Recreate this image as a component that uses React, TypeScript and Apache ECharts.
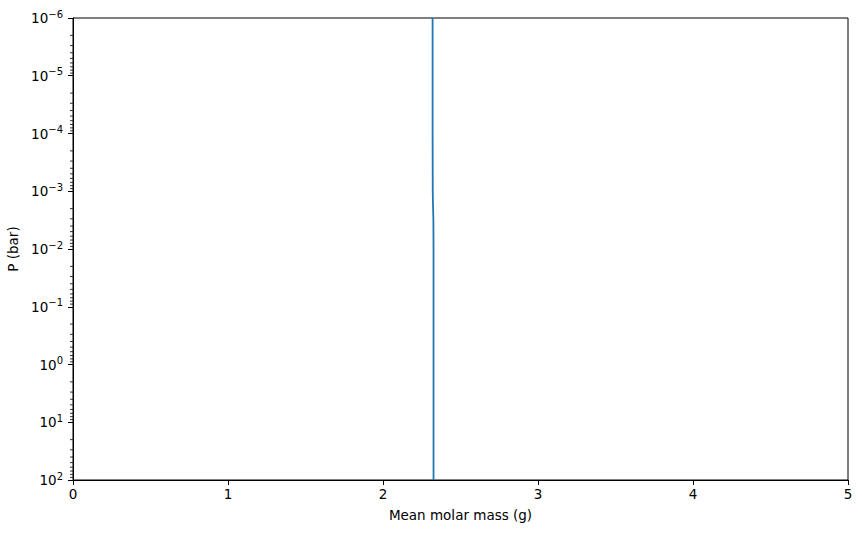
import { useEffect, useRef } from 'react'
import * as echarts from 'echarts'

// mean molar mass profile (g) vs pressure (bar)
const pressure = [1e2, 1e1, 1e0, 1e-1, 1e-2, 3e-3, 1.5e-3, 1e-3, 1e-4, 1e-5, 1e-6]
const molarMass = [2.326, 2.326, 2.326, 2.326, 2.326, 2.325, 2.322, 2.321, 2.32, 2.32, 2.32]

const xTicks = [0, 1, 2, 3, 4, 5]
// decades shown on the log axis and the minor tick multipliers inside each
const decades = [-6, -5, -4, -3, -2, -1, 0, 1]
const minorSteps = [2, 3, 4, 5, 6, 7, 8, 9]

const FONT = '"DejaVu Sans", sans-serif'
const FS = 13.5

export default function App() {
  const chartRef = useRef<HTMLDivElement>(null)

  useEffect(() => {
    if (!chartRef.current) return
    const chart = echarts.init(chartRef.current, undefined, { renderer: 'svg' })

    const minorValues = decades.flatMap((d) => minorSteps.map((m) => [0, m * Math.pow(10, d)]))

    const option: echarts.EChartsOption = {
      animation: false,
      textStyle: { fontFamily: FONT },
      grid: {
        left: 73,
        right: 14,
        top: 18,
        bottom: 53,
        containLabel: false,
        outerBoundsMode: 'none',
        show: true,
        borderColor: '#000',
        borderWidth: 1,
        backgroundColor: 'transparent',
      } as any,
      xAxis: {
        type: 'value',
        min: xTicks[0],
        max: xTicks[xTicks.length - 1],
        interval: 1,
        name: 'Mean molar mass (g)',
        nameLocation: 'middle',
        nameGap: 28,
        nameTextStyle: { color: '#000', fontSize: FS, fontFamily: FONT },
        axisLine: { lineStyle: { color: '#000', width: 1 } },
        axisTick: { inside: false, length: 5, lineStyle: { color: '#000' } },
        axisLabel: { color: '#000', fontSize: FS, margin: 7, fontFamily: FONT },
        splitLine: { show: false },
      },
      yAxis: {
        type: 'log',
        logBase: 10,
        min: 1e-6,
        max: 1e2,
        inverse: true,
        name: 'P (bar)',
        nameLocation: 'middle',
        nameGap: 47,
        nameRotate: 90,
        nameTextStyle: { color: '#000', fontSize: FS, fontFamily: FONT },
        axisLine: { show: true, lineStyle: { color: '#000', width: 1 } },
        axisTick: { show: true, inside: false, length: 5, lineStyle: { color: '#000' } },
        splitLine: { show: false },
        axisLabel: {
          color: '#000',
          margin: 10,
          fontFamily: FONT,
          formatter: (v: number) => {
            const e = Math.round(Math.log10(v))
            const s = e < 0 ? '\u2212' + Math.abs(e) : String(e)
            return `{b|10}{s|${s}}`
          },
          rich: {
            b: { fontSize: FS, fontFamily: FONT, color: '#000' },
            s: { fontSize: 10, fontFamily: FONT, color: '#000', padding: [0, 0, 8, 0] },
          },
        },
      },
      series: [
        {
          type: 'custom',
          silent: true,
          clip: false,
          data: minorValues,
          renderItem: (_params: any, api: any) => {
            const p = api.coord([api.value(0), api.value(1)])
            return {
              type: 'line',
              shape: { x1: p[0] - 3, y1: p[1], x2: p[0], y2: p[1] },
              style: { stroke: '#000', lineWidth: 0.8 },
            }
          },
        },
        {
          type: 'line',
          data: molarMass.map((m, i) => [m, pressure[i]]),
          showSymbol: false,
          lineStyle: { color: '#1f77b4', width: 1.8 },
          itemStyle: { color: '#1f77b4' },
          clip: true,
        },
      ],
    }

    chart.setOption(option)
    return () => chart.dispose()
  }, [])

  return (
    <div
      ref={chartRef}
      style={{ position: 'absolute', left: 0, top: 0, width: 862, height: 533, background: '#fff' }}
    />
  )
}
